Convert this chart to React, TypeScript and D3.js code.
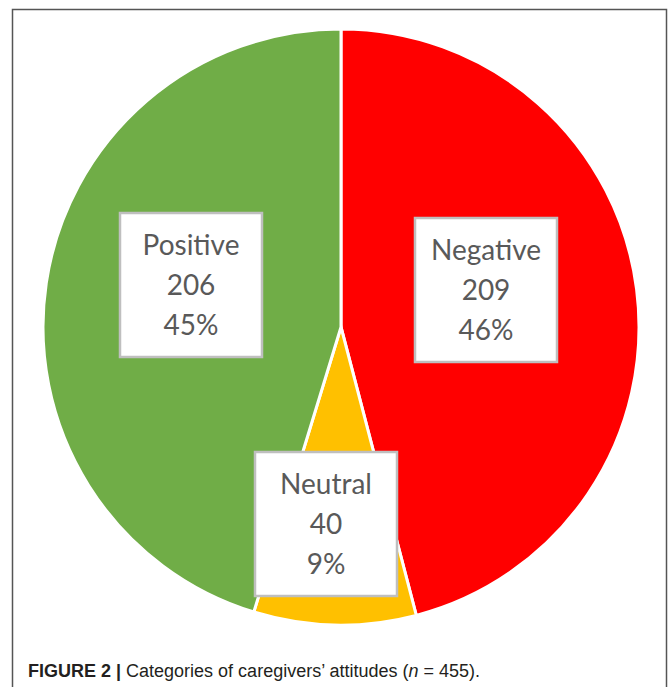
import React, { useEffect } from "react";
import * as d3 from "d3";

const categories = ["Negative", "Neutral", "Positive"];
const counts = [209, 40, 206];
const percents = ["46%", "9%", "45%"];
const colors = ["#FF0000", "#FFC000", "#70AD47"];

const W = 669;
const H = 687;
const CX = 341;
const CY = 327;
const R = 298;
// label box centres relative to the pie centre (layout only)
const labelNudge = [
  { dx: 145, dy: -37 },
  { dx: -15, dy: 197 },
  { dx: -150, dy: -42 },
];

export default function App() {
  useEffect(() => {
    document.body.style.margin = "0";
  }, []);
  const pie = d3
    .pie<number>()
    .sort(null)
    .value((d) => d)
    .startAngle(0)
    .endAngle(2 * Math.PI);
  const arcs = pie(counts);
  const arc = d3.arc<d3.PieArcDatum<number>>().innerRadius(0).outerRadius(R);
  const bw = 142;
  const bh = 144;
  return (
    <svg width={W} height={H} style={{ display: "block", background: "#fff" }}>
      <rect x={12.5} y={9.5} width={654} height={700} fill="#fff" stroke="#555" strokeWidth={1.5} />
      <g transform={`translate(${CX},${CY})`}>
        {arcs.map((a, i) => (
          <path key={i} d={arc(a) || ""} fill={colors[i]} stroke="#fff" strokeWidth={3} strokeLinejoin="miter" />
        ))}
        {arcs.map((a, i) => {
          const { dx, dy } = labelNudge[i];
          return (
            <g key={"l" + i} transform={`translate(${dx},${dy})`}>
              <rect x={-bw / 2} y={-bh / 2} width={bw} height={bh} fill="#fff" stroke="#BFBFBF" strokeWidth={2.5} />
              {[categories[i], String(counts[i]), percents[i]].map((t, j) => (
                <text
                  key={j}
                  x={0}
                  y={(j - 1) * 40}
                  dy="0.35em"
                  textAnchor="middle"
                  fontFamily="Lato, 'Open Sans', sans-serif"
                  fontSize={28}
                  fill="#595959"
                >
                  {t}
                </text>
              ))}
            </g>
          );
        })}
      </g>
      <text x={28} y={677} fontFamily="'Liberation Sans', Arial, sans-serif" fontSize={18} fill="#231F20">
        <tspan fontWeight="bold">FIGURE 2 |</tspan>
        <tspan> Categories of caregivers’ attitudes (</tspan>
        <tspan fontStyle="italic">n</tspan>
        <tspan xmlSpace="preserve"> = 455).</tspan>
      </text>
    </svg>
  );
}
